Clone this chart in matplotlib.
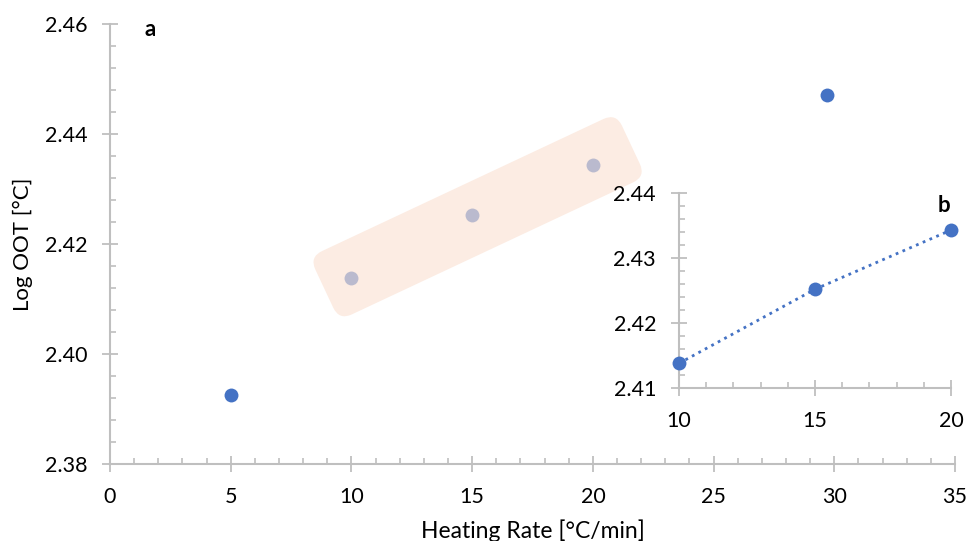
import numpy as np
import matplotlib.pyplot as plt
from matplotlib.patches import FancyBboxPatch
from matplotlib.transforms import Affine2D
from matplotlib.ticker import MultipleLocator, FormatStrFormatter

plt.rcParams['font.family'] = ['Lato', 'DejaVu Sans']

# main chart (a)
rate = [5, 10, 15, 20, 29.7]
log_oot = [2.3925, 2.4138, 2.4253, 2.4344, 2.4471]

# inset (b) - the three highlighted points
rate_b = [10, 15, 20]
log_oot_b = [2.4138, 2.4252, 2.4343]

blue = "#4472C4"
grey = "#BFBFBF"


def style_axes(ax):
    for side in ["top", "right"]:
        ax.spines[side].set_visible(False)
    for side in ["left", "bottom"]:
        ax.spines[side].set_color(grey)
        ax.spines[side].set_linewidth(1.5)
    ax.tick_params(which="major", direction="inout", length=11, width=1.3,
                   color=grey, labelsize=15.5, pad=11)
    ax.tick_params(which="minor", direction="in", length=4, width=1.2, color=grey)
    ax.set_facecolor("none")


fig = plt.figure(figsize=(9.67, 5.41), dpi=100)

# main axes
ax = fig.add_axes([0.1138, 0.1423, 0.8738, 0.8133])
ax.scatter(rate, log_oot, s=100, color=blue, zorder=3, linewidths=0)
ax.set_xlim(0, 35)
ax.set_ylim(2.38, 2.46)
ax.xaxis.set_major_locator(MultipleLocator(5))
ax.xaxis.set_minor_locator(MultipleLocator(1))
ax.yaxis.set_major_locator(MultipleLocator(0.02))
ax.yaxis.set_minor_locator(MultipleLocator(0.004))
ax.yaxis.set_major_formatter(FormatStrFormatter("%.2f"))
style_axes(ax)
ax.set_xlabel("Heating Rate [°C/min]", fontsize=16.5, labelpad=9)
ax.set_ylabel("Log OOT [°C]", fontsize=16, labelpad=8)

# translucent highlight box over the points shown in the inset
pts = ax.transData.transform(np.column_stack([rate[1:4], log_oot[1:4]]))
d = pts[-1] - pts[0]
angle = np.degrees(np.arctan2(d[1], d[0]))
u = d / np.hypot(*d)
length = np.hypot(*d) + 72
width = 70
center = pts.mean(axis=0) + 6 * u
box = FancyBboxPatch((-length / 2, -width / 2), length, width,
                     boxstyle="round,pad=0,rounding_size=14",
                     transform=Affine2D().rotate_deg(angle).translate(*center),
                     facecolor="#FBE2D4", edgecolor="none", alpha=0.65, zorder=5)
ax.add_patch(box)

# inset axes
axb = fig.add_axes([0.7022, 0.2828, 0.2813, 0.3604])
axb.plot(rate_b, log_oot_b, linestyle=":", color=blue, linewidth=2)
axb.scatter(rate_b, log_oot_b, s=100, color=blue, zorder=3, linewidths=0,
            clip_on=False)
axb.set_xlim(10, 20)
axb.set_ylim(2.41, 2.44)
axb.xaxis.set_major_locator(MultipleLocator(5))
axb.xaxis.set_minor_locator(MultipleLocator(1))
axb.yaxis.set_major_locator(MultipleLocator(0.01))
axb.yaxis.set_minor_locator(MultipleLocator(0.002))
axb.yaxis.set_major_formatter(FormatStrFormatter("%.2f"))
style_axes(axb)

fig.text(150 / 967, 1 - 30 / 541, "a", fontsize=16, fontweight="bold",
         va="center", ha="center")
fig.text(944 / 967, 1 - 205 / 541, "b", fontsize=16, fontweight="bold",
         va="center", ha="center")

fig.savefig("out.png", dpi=100)
